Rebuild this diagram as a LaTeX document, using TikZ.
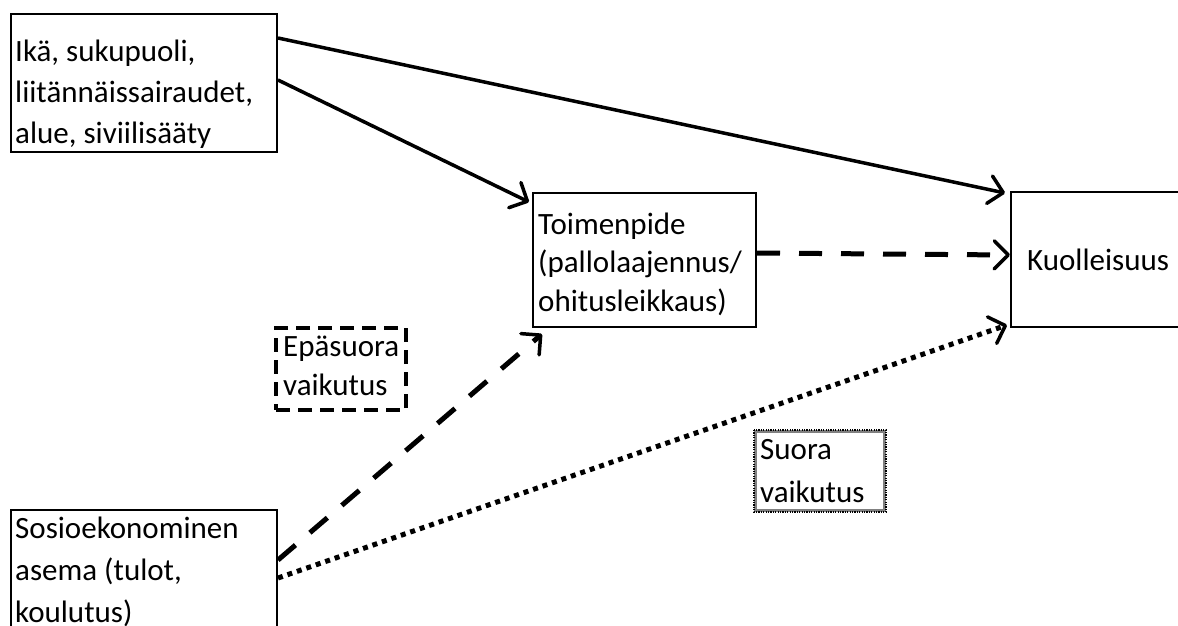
\documentclass[tikz,border=0pt]{standalone}
\usepackage{fontspec}
\setmainfont{Carlito}
\usetikzlibrary{arrows.meta}
\begin{document}
\begin{tikzpicture}[x=1pt,y=-1pt,
  box/.style={draw, line width=2pt, inner sep=0pt, anchor=north west},
  txt/.style={inner sep=0pt, anchor=base west, align=left},
  tip/.style={-{Straight Barb[length=14pt,width=28pt,line width=3.5pt,round]}},
  solidarrow/.style={tip, line width=3.5pt},
  dasharrow/.style={tip, line width=5pt, dash pattern=on 23pt off 19pt},
  dotarrow/.style={tip, line width=5pt, dash pattern=on 5pt off 5pt},
]
\clip (0,0) rectangle (1178,625);
\fill[white] (0,0) rectangle (1178,625);
% boxes
\node[box, minimum width=266pt, minimum height=138pt] (ika) at (10,13) {};
\node[box, minimum width=223pt, minimum height=134pt] (toi) at (532,192) {};
\node[box, minimum width=200pt, minimum height=135pt] (kuo) at (1010,191) {};
\node[box, minimum width=266pt, minimum height=140pt] (sos) at (10,509) {};
\node[box, line width=4pt, dash pattern=on 14pt off 8pt, minimum width=130pt, minimum height=82pt] (epa) at (274,326) {};
\node[box, draw=gray, line width=3pt, minimum width=129pt, minimum height=79pt] (suo) at (754,430) {};
\draw[black, line width=1.2pt, dash pattern=on 1.2pt off 1.2pt] (suo.north west) rectangle (suo.south east);
% texts
\node[txt, font=\fontsize{31}{41}\selectfont] (ikat) at (15,143) {Ikä, sukupuoli,\\liitännäissairaudet,\\alue, siviilisääty};
\node[txt, font=\fontsize{31}{38.5}\selectfont] (toit) at (538,311) {Toimenpide\\(pallolaajennus/\\ohitusleikkaus)};
\node[txt, font=\fontsize{31}{40}\selectfont] (kuot) at (1027,270) {Kuolleisuus};
\node[txt, font=\fontsize{31}{42}\selectfont] (sost) at (15,622) {Sosioekonominen\\asema (tulot,\\koulutus)};
\node[txt, font=\fontsize{31}{39}\selectfont] (epat) at (283,395) {Epäsuora\\vaikutus};
\node[txt, font=\fontsize{31}{43}\selectfont] (suot) at (760,502) {Suora\\vaikutus};
% connectors
\draw[solidarrow] ([yshift=-25pt]ika.north east) -- ([xshift=-5pt,yshift=-2pt]kuo.north west);
\draw[solidarrow] ([yshift=-67pt]ika.north east) -- ([xshift=-3pt,yshift=-10pt]toi.north west);
\draw[dasharrow] ([yshift=-61pt]toi.north east) -- ([yshift=-64pt]kuo.north west);
\draw[dasharrow] ([yshift=-51pt]sos.north east) -- ([xshift=10pt,yshift=-6pt]toi.south west);
\draw[dotarrow] ([yshift=-69pt]sos.north east) -- ([xshift=-3pt,yshift=3pt]kuo.south west);
\end{tikzpicture}
\end{document}
